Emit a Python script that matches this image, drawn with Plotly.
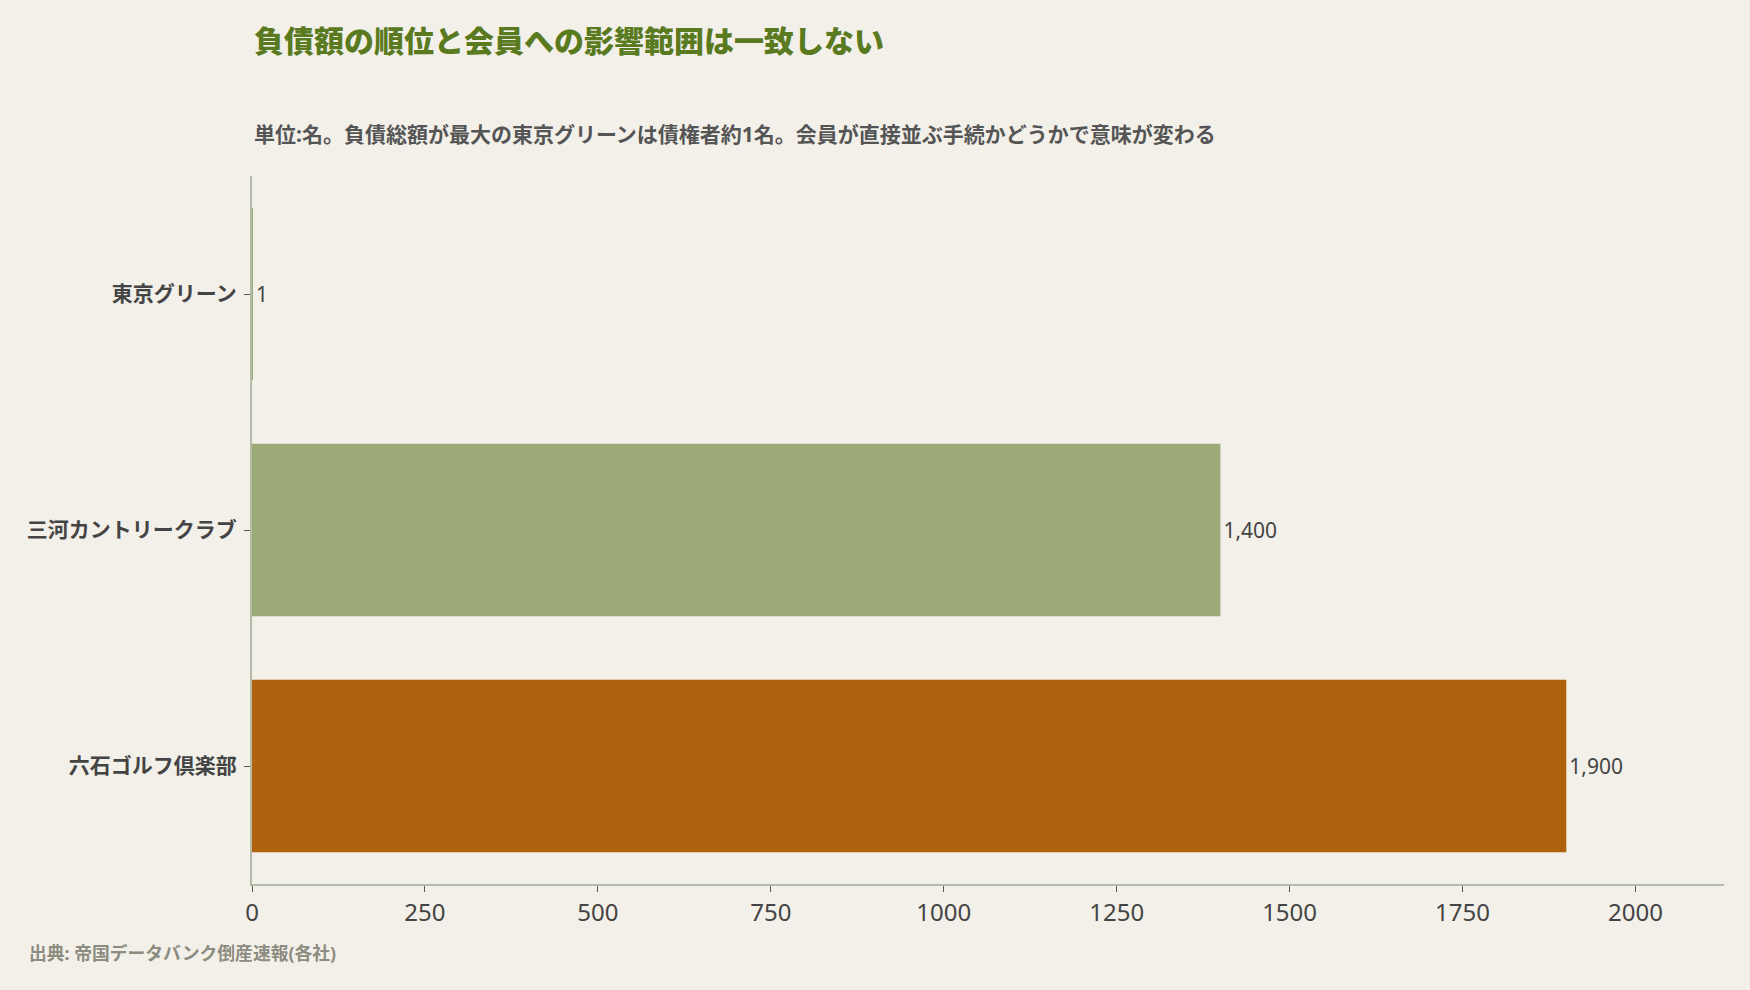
import plotly.graph_objects as go

categories = ["東京グリーン", "三河カントリークラブ", "六石ゴルフ倶楽部"]
values = [1, 1400, 1900]
labels = ["1", "1,400", "1,900"]
colors = ["#9caa77", "#9caa77", "#b0620f"]
x_ticks = [0, 250, 500, 750, 1000, 1250, 1500, 1750, 2000]

title = "負債額の順位と会員への影響範囲は一致しない"
subtitle = "単位:名。負債総額が最大の東京グリーンは債権者約1名。会員が直接並ぶ手続かどうかで意味が変わる"
source = "出典: 帝国データバンク倒産速報(各社)"

FONT = "Noto Sans, Noto Sans CJK JP"

fig = go.Figure(go.Bar(
    y=categories, x=values, orientation="h",
    marker=dict(color=colors, line=dict(width=0)),
    text=labels, textposition="outside", cliponaxis=False,
    textfont=dict(family=FONT, size=21, color="#444444"),
    width=0.73,
))

fig.update_layout(
    width=1750, height=990,
    paper_bgcolor="#f3f0e9", plot_bgcolor="#f3f0e9",
    margin=dict(l=252, r=26, t=176, b=106),
    showlegend=False,
    font=dict(family=FONT, color="#444444"),
    annotations=[
        dict(text=title, xref="paper", yref="paper", x=0, y=1,
             xanchor="left", yanchor="middle", yshift=136, showarrow=False,
             font=dict(family=FONT, size=30, color="#5a7a1f", weight=900)),
        dict(text="<b>" + subtitle + "</b>", xref="paper", yref="paper", x=0, y=1,
             xanchor="left", yanchor="middle", yshift=42, showarrow=False,
             font=dict(family=FONT, size=21, color="#555555")),
        dict(text="<b>" + source + "</b>", xref="paper", yref="paper", x=0, y=0,
             xanchor="left", yanchor="middle", xshift=-225, yshift=-69, showarrow=False,
             font=dict(family=FONT, size=17.8, color="#8c8c80")),
    ],
)

fig.update_xaxes(
    range=[0, 2128], tickvals=x_ticks, ticktext=[str(v) for v in x_ticks],
    showgrid=False, zeroline=False, showline=True, linecolor="#b5bca6", linewidth=2,
    ticks="outside", ticklen=6, tickcolor="#555555", tickwidth=1,
    tickfont=dict(family=FONT, size=24, color="#444444"),
)
fig.update_yaxes(
    autorange="reversed", showgrid=False, zeroline=False,
    showline=True, linecolor="#b5bca6", linewidth=2,
    ticks="outside", ticklen=6, tickcolor="#555555", tickwidth=1,
    ticklabelstandoff=3,
    tickfont=dict(family=FONT, size=21, color="#444444"),
    tickvals=categories, ticktext=["<b>" + c + "</b>" for c in categories],
)

fig.write_html("out.html", config={"displayModeBar": False},
               post_script="document.body.style.margin='0';")
